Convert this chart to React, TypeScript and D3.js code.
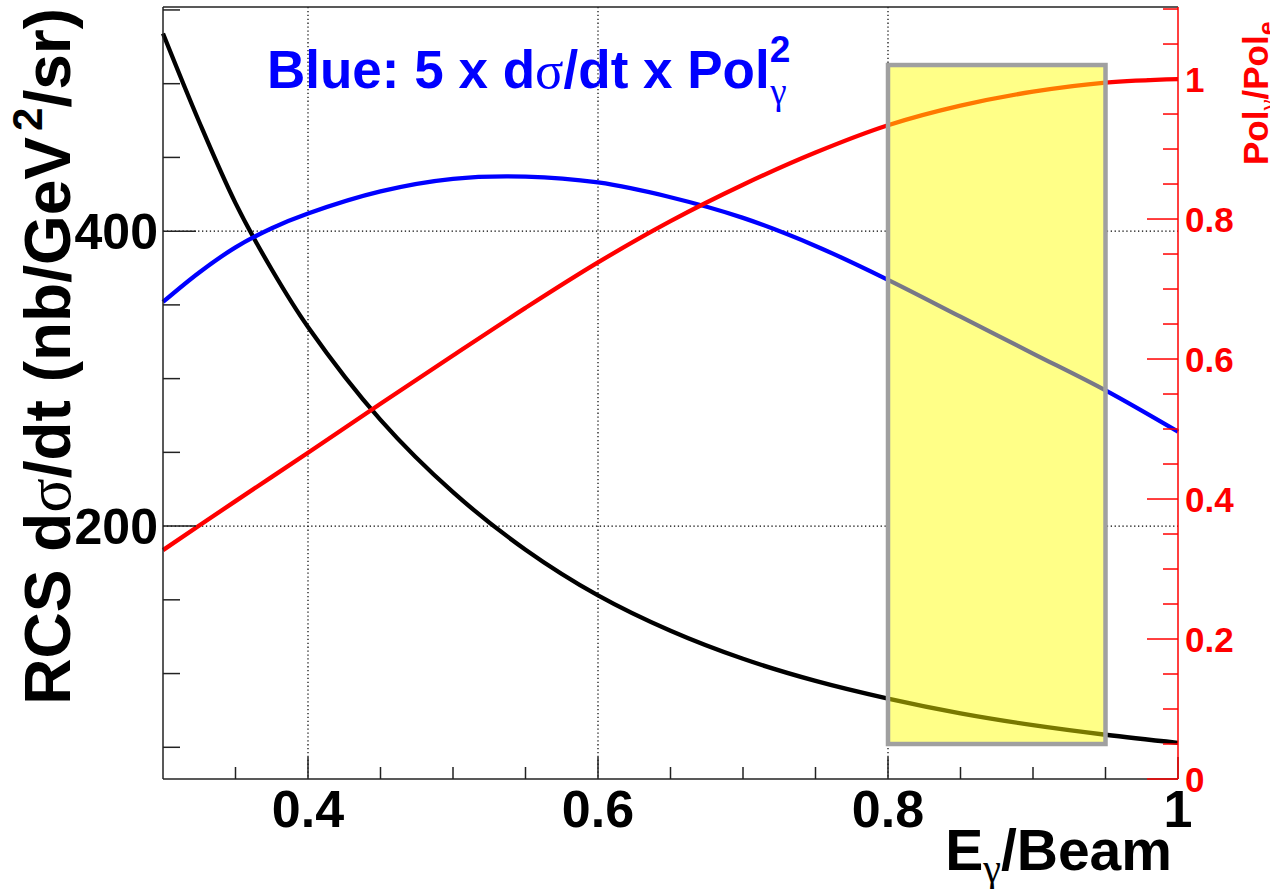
import React from "react";
import * as d3 from "d3";

// ---- data ----
const BLACK_X = [0.30, 0.325, 0.35, 0.375, 0.40, 0.45, 0.50, 0.55, 0.60, 0.65, 0.70, 0.75, 0.80, 0.85, 0.90, 0.95, 1.00];
const BLACK_Y = [534, 474, 419, 374, 335, 272, 223, 184, 153, 129, 110, 95, 83, 73, 65, 58.5, 53];

const BLUE_X = [0.30, 0.325, 0.35, 0.375, 0.40, 0.45, 0.50, 0.55, 0.60, 0.65, 0.70, 0.75, 0.80, 0.85, 0.90, 0.95, 1.00];
const BLUE_Y = [352, 372, 389, 402, 412, 427, 435.5, 437, 433, 423, 409, 390, 367, 342, 317, 292, 264];

const RED_X = [0.30, 0.35, 0.40, 0.45, 0.50, 0.55, 0.60, 0.65, 0.70, 0.75, 0.80, 0.85, 0.90, 0.95, 1.00];
const RED_Y = [0.327, 0.397, 0.466, 0.536, 0.605, 0.673, 0.738, 0.797, 0.849, 0.895, 0.934, 0.962, 0.982, 0.995, 1.0];

const X_DOMAIN = [0.3, 1.0];
const YL_DOMAIN = [28.5, 552];
const YR_DOMAIN = [0, 1.1029];

const X_MAJOR = [0.4, 0.6, 0.8, 1.0];
const X_LABELS = ["0.4", "0.6", "0.8", "1"];
const X_MINOR = [0.35, 0.45, 0.5, 0.55, 0.65, 0.7, 0.75, 0.85, 0.9, 0.95];
const X_GRID = [0.4, 0.6, 0.8];

const YL_MAJOR = [200, 400];
const YL_LABELS = ["200", "400"];
const YL_MINOR = [50, 100, 150, 250, 300, 350, 450, 500, 550];

const YR_MAJOR = [0, 0.2, 0.4, 0.6, 0.8, 1.0];
const YR_LABELS = ["0", "0.2", "0.4", "0.6", "0.8", "1"];
const YR_MINOR = [0.05, 0.1, 0.15, 0.25, 0.3, 0.35, 0.45, 0.5, 0.55, 0.65, 0.7, 0.75, 0.85, 0.9, 0.95, 1.05, 1.1];

// highlighted band: x range and y range (right-axis units)
const BAND_X = [0.8, 0.95];
const BAND_Y = [0.05, 1.02];

const FONT = "'Liberation Sans', Arial, Helvetica, sans-serif";
const SYM = "'Liberation Serif', 'DejaVu Serif', serif";

export default function App() {
  const L = 163, R = 1178, T = 7, B = 779;
  const x = d3.scaleLinear().domain(X_DOMAIN).range([L, R]);
  const yL = d3.scaleLinear().domain(YL_DOMAIN).range([B, T]);
  const yR = d3.scaleLinear().domain(YR_DOMAIN).range([B, T]);

  const lineL = d3.line<[number, number]>().x((d) => x(d[0])).y((d) => yL(d[1])).curve(d3.curveCatmullRom.alpha(0.5));
  const lineR = d3.line<[number, number]>().x((d) => x(d[0])).y((d) => yR(d[1])).curve(d3.curveCatmullRom.alpha(0.5));

  const black = lineL(BLACK_X.map((v, i) => [v, BLACK_Y[i]]) as [number, number][]) || "";
  const blue = lineL(BLUE_X.map((v, i) => [v, BLUE_Y[i]]) as [number, number][]) || "";
  const red = lineR(RED_X.map((v, i) => [v, RED_Y[i]]) as [number, number][]) || "";

  const bx0 = x(BAND_X[0]), bx1 = x(BAND_X[1]);
  const by0 = yR(BAND_Y[1]), by1 = yR(BAND_Y[0]);

  return (
    <svg width={1270} height={889} style={{ position: "absolute", left: 0, top: 0, background: "#fff" }} fontFamily={FONT}>
      <rect x={0} y={0} width={1270} height={889} fill="#fff" />
      {/* grid */}
      {X_GRID.map((v) => (
        <line key={"gx" + v} x1={x(v)} x2={x(v)} y1={T} y2={B} stroke="#000" strokeWidth={1.2} strokeDasharray="1.3,2.6" />
      ))}
      {YL_MAJOR.map((v) => (
        <line key={"gy" + v} x1={L} x2={R} y1={yL(v)} y2={yL(v)} stroke="#000" strokeWidth={1.2} strokeDasharray="1.3,2.6" />
      ))}
      {/* band background hides grid */}
      <rect x={bx0} y={by0} width={bx1 - bx0} height={by1 - by0} fill="#fff" />

      {/* curves */}
      <path d={black} fill="none" stroke="#000" strokeWidth={4.3} strokeLinejoin="round" />
      <path d={blue} fill="none" stroke="#0000ff" strokeWidth={4.3} strokeLinejoin="round" />
      <path d={red} fill="none" stroke="#ff0000" strokeWidth={4.3} strokeLinejoin="round" />

      {/* band */}
      <rect x={bx0} y={by0} width={bx1 - bx0} height={by1 - by0} fill="#ffff00" fillOpacity={0.47} />
      <rect x={bx0} y={by0} width={bx1 - bx0} height={by1 - by0} fill="none" stroke="#a0a0a0" strokeWidth={4.5} />

      {/* frame */}
      <line x1={L} x2={R} y1={T} y2={T} stroke="#222" strokeWidth={1.5} />
      <line x1={L} x2={L} y1={T} y2={B} stroke="#222" strokeWidth={1.5} />
      <line x1={L} x2={R} y1={B} y2={B} stroke="#222" strokeWidth={1.5} />

      {/* x ticks */}
      {X_MAJOR.map((v) => (
        <line key={"xM" + v} x1={x(v)} x2={x(v)} y1={B} y2={B - 22} stroke="#222" strokeWidth={1.5} />
      ))}
      {X_MINOR.map((v) => (
        <line key={"xm" + v} x1={x(v)} x2={x(v)} y1={B} y2={B - 12} stroke="#222" strokeWidth={1.5} />
      ))}
      {X_MAJOR.map((v, i) => (
        <text key={"xl" + v} x={x(v)} y={827} textAnchor="middle" fontSize={52} fontWeight="bold" fill="#000">{X_LABELS[i]}</text>
      ))}

      {/* left y ticks */}
      {YL_MAJOR.map((v) => (
        <line key={"yM" + v} x1={L} x2={L + 33} y1={yL(v)} y2={yL(v)} stroke="#222" strokeWidth={1.5} />
      ))}
      {YL_MINOR.map((v) => (
        <line key={"ym" + v} x1={L} x2={L + 17} y1={yL(v)} y2={yL(v)} stroke="#222" strokeWidth={1.5} />
      ))}
      {YL_MAJOR.map((v, i) => (
        <text key={"yl" + v} x={158} y={yL(v)} dy="0.36em" textAnchor="end" fontSize={50} fontWeight="bold" fill="#000">{YL_LABELS[i]}</text>
      ))}

      {/* right axis */}
      <line x1={R} x2={R} y1={T} y2={B} stroke="#ff0000" strokeWidth={1.5} />
      {YR_MAJOR.map((v) => (
        <line key={"rM" + v} x1={R} x2={R - 31} y1={yR(v)} y2={yR(v)} stroke="#ff0000" strokeWidth={1.5} />
      ))}
      {YR_MINOR.map((v) => (
        <line key={"rm" + v} x1={R} x2={R - 15} y1={yR(v)} y2={yR(v)} stroke="#ff0000" strokeWidth={1.5} />
      ))}
      {YR_MAJOR.map((v, i) => (
        <text key={"rl" + v} x={1185} y={yR(v)} dy="0.36em" textAnchor="start" fontSize={35} fontWeight="bold" fill="#ff0000">{YR_LABELS[i]}</text>
      ))}

      {/* titles */}
      <text transform="translate(70,8) rotate(-90)" textAnchor="end" fontSize={64} fontWeight="bold" fill="#000">
        RCS d<tspan fontFamily={SYM} fontWeight="normal">σ</tspan>/dt (nb/GeV<tspan dx={6} dy={-28} fontSize={42}>2</tspan><tspan dy={28}>/sr)</tspan>
      </text>
      <text x={1172} y={870} textAnchor="end" fontSize={57} fontWeight="bold" fill="#000">
        E<tspan dy={12} fontSize={40} fontFamily={SYM} fontWeight="normal">γ</tspan><tspan dy={-12}>/Beam</tspan>
      </text>
      <text transform="translate(1268,165) rotate(-90)" textAnchor="start" fontSize={35} fontWeight="bold" fill="#ff0000">
        Pol<tspan dy={8} fontSize={25} fontFamily={SYM} fontWeight="normal">γ</tspan><tspan dy={-8}>/Pol</tspan><tspan dy={8} fontSize={25}>e</tspan>
      </text>
      <text x={267} y={88} fontSize={53} fontWeight="bold" fill="#0000ff">
        Blue: 5 x d<tspan fontFamily={SYM} fontWeight="normal">σ</tspan>/dt x Pol<tspan dy={-26} fontSize={37}>2</tspan><tspan dx={-20} dy={42} fontSize={37} fontFamily={SYM} fontWeight="normal">γ</tspan>
      </text>
    </svg>
  );
}
